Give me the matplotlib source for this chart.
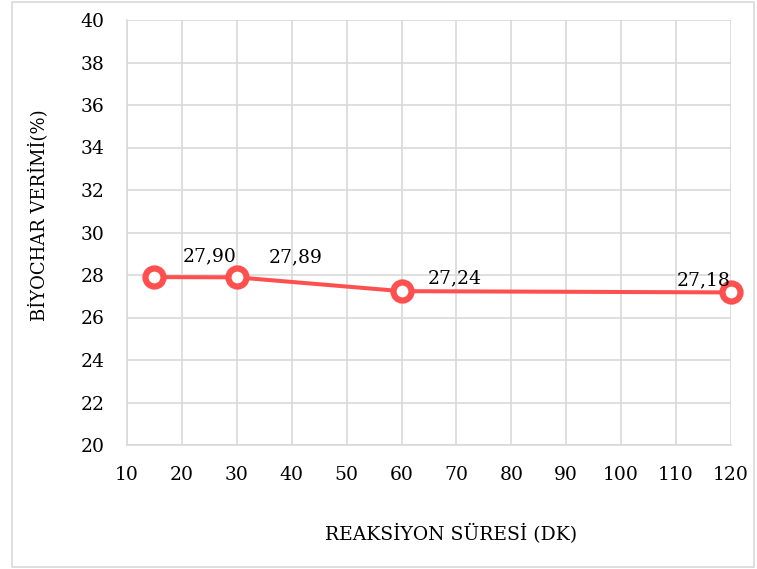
import matplotlib.pyplot as plt
from matplotlib.patches import Rectangle

# ── Data ──────────────────────────────────────────────────────────────────────
sure = [15, 30, 60, 120]                     # reaksiyon süresi (dk)
verim = [27.90, 27.89, 27.24, 27.18]         # biyochar verimi (%)
etiket = ["27,90", "27,89", "27,24", "27,18"]
etiket_offset = [(40, 15), (42, 14.5), (38, 9.5), (-20, 8.5)]

x_ticks = list(range(10, 121, 10))
y_ticks = list(range(20, 41, 2))

RED = "#ff5050"
GRID = "#d9d9d9"

plt.rcParams["font.family"] = ["DejaVu Serif"]

fig = plt.figure(figsize=(7.57, 5.69), dpi=100)
ax = fig.add_axes([127 / 757, 1 - 445 / 569, (731 - 127) / 757, (445 - 20) / 569])

# chart border (Excel style)
fig.patches.append(Rectangle((12 / 757, 2 / 569), 742 / 757, 565 / 569,
                             transform=fig.transFigure, fill=False,
                             edgecolor=GRID, lw=1.2))

ax.plot(sure, verim, color=RED, lw=2.9, marker="o", ms=13,
        mfc="white", mec=RED, mew=4.5, zorder=3, clip_on=False)

for xv, yv, t, off in zip(sure, verim, etiket, etiket_offset):
    ax.annotate(t, (xv, yv), xytext=off, textcoords="offset points",
                ha="center", va="center", fontsize=13.5, color="black", zorder=4)

ax.set_xlim(10, 120)
ax.set_ylim(20, 40)
ax.set_xticks(x_ticks)
ax.set_yticks(y_ticks)
ax.tick_params(length=0, labelsize=13.5)
ax.tick_params(axis="x", pad=15)
ax.tick_params(axis="y", pad=16)
ax.grid(color=GRID, lw=1.2)
ax.set_axisbelow(True)
for s in ax.spines.values():
    s.set_visible(False)
ax.spines["left"].set_visible(True)
ax.spines["bottom"].set_visible(True)
ax.spines["left"].set_color(GRID)
ax.spines["bottom"].set_color(GRID)
ax.spines["left"].set_linewidth(1.2)
ax.spines["bottom"].set_linewidth(1.2)

fig.text(451 / 757, 1 - 534 / 569, "REAKSİYON SÜRESİ (DK)", ha="center",
         va="center", fontsize=13.5)
fig.text(39 / 757, 1 - 215 / 569, "BİYOCHAR VERİMİ(%)", ha="center",
         va="center", rotation=90, fontsize=13)

fig.savefig("out.png", dpi=100)
